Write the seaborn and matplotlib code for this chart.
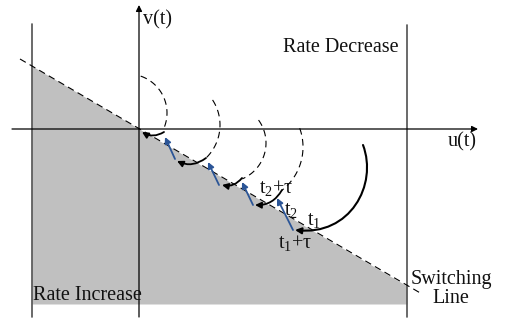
import matplotlib
matplotlib.use("Agg")
import matplotlib.pyplot as plt
import numpy as np
import seaborn as sns
from matplotlib.patches import FancyArrowPatch
from matplotlib.path import Path

# everything lives in picture pixels, v pointing down
W, H = 505, 320

switch_u = [20, 422]
switch_v = [59, 294]

gray_u = [32, 407]
gray_top = [66, 286]
gray_bottom = 304

bound_u = [32, 407]
bound_top = [24, 25]
bound_bottom = 317

u_axis = [(12, 129), (478, 129)]
v_axis = [(139, 317), (139, 5)]

# dashed arcs: centre, radius, start / end angle in degrees
arc_cu = [128, 174, 227, 248]
arc_cv = [113, 125, 143, 147]
arc_r = [39, 46, 39, 55]
arc_a0 = [-71, -33, -36, -20]
arc_a1 = [26, 47, 67, 52]

# short solid arrows closing each dashed arc
black_from = [(164, 132), (206, 158), (242, 178), (282, 190)]
black_to = [(142, 132), (177, 161), (222, 185), (255, 205)]

# blue jumps after the delay
blue_from = [(175, 159), (219, 185), (253, 205), (293, 230)]
blue_to = [(165, 137), (208, 162), (242, 182), (277, 198)]

# big solid trajectory, cubic bezier control points
big_u = [363, 378, 350, 295]
big_v = [145, 185, 236, 230]

region_text = ["Rate Decrease", "Rate Increase", "Switching\nLine"]
region_u = [283, 33, 451]
region_v = [48, 295, 289]

axis_text = ["v(t)", "u(t)"]
axis_text_u = [143, 448]
axis_text_v = [20, 142]

time_text = [r"$t_2{+}\tau$", r"$t_2$", r"$t_1$", r"$t_1{+}\tau$"]
time_u = [276, 291, 314, 295]
time_v = [188, 211, 221, 243]

sns.set_theme(style="white")
plt.rcParams["font.family"] = ["Liberation Serif", "DejaVu Serif"]
plt.rcParams["mathtext.fontset"] = "custom"
plt.rcParams["mathtext.rm"] = "Liberation Serif"
plt.rcParams["mathtext.it"] = "Liberation Serif"

fig = plt.figure(figsize=(W / 100, H / 100), dpi=100)
ax = fig.add_axes([0, 0, 1, 1])
ax.set_xlim(0, W)
ax.set_ylim(H, 0)
ax.axis("off")

ax.fill_between(gray_u, gray_top, gray_bottom, color="#c0c0c0", lw=0, zorder=1)

sns.lineplot(x=switch_u, y=switch_v, ax=ax, color="black", lw=0.8,
             linestyle=(0, (6, 4)), sort=False, estimator=None, zorder=3)

for u, top in zip(bound_u, bound_top):
    ax.plot([u, u], [top, bound_bottom], color="#505050", lw=1.2, zorder=2)

for start, tip in (u_axis, v_axis):
    ax.annotate("", xy=tip, xytext=start,
                arrowprops=dict(arrowstyle="-|>", color="black", lw=0.9,
                                mutation_scale=9, shrinkA=0, shrinkB=0),
                zorder=4)

for cu, cv, r, a0, a1 in zip(arc_cu, arc_cv, arc_r, arc_a0, arc_a1):
    t = np.deg2rad(np.linspace(a0, a1, 60))
    ax.plot(cu + r * np.cos(t), cv + r * np.sin(t), color="black", lw=0.8,
            linestyle=(0, (6, 4)), zorder=3)

for p0, p1 in zip(black_from, black_to):
    ax.add_patch(FancyArrowPatch(p0, p1, connectionstyle="arc3,rad=-0.3",
                                 arrowstyle="-|>", mutation_scale=9,
                                 color="black", lw=1.3, shrinkA=0, shrinkB=0,
                                 zorder=5))

for p0, p1 in zip(blue_from, blue_to):
    ax.add_patch(FancyArrowPatch(p0, p1, arrowstyle="-|>", mutation_scale=9,
                                 color="#2b5597", lw=1.3, shrinkA=0, shrinkB=0,
                                 zorder=5))

big_path = Path(list(zip(big_u, big_v)),
                [Path.MOVETO, Path.CURVE4, Path.CURVE4, Path.CURVE4])
ax.add_patch(FancyArrowPatch(path=big_path, arrowstyle="-|>", mutation_scale=9,
                             color="black", lw=1.5, zorder=5))

for s, u, v in zip(region_text, region_u, region_v):
    ha = "center" if "\n" in s else "left"
    ax.text(u, v, s, fontsize=14.5, ha=ha, va="center", linespacing=1.05,
            color="#111111", zorder=6)

for s, u, v in zip(axis_text, axis_text_u, axis_text_v):
    ax.text(u, v, s, fontsize=14.5, ha="left", va="center", color="#111111",
            zorder=6)

for s, u, v in zip(time_text, time_u, time_v):
    ax.text(u, v, s, fontsize=14.5, ha="center", va="center", color="#111111",
            zorder=6)

fig.savefig("out.png", dpi=100)
